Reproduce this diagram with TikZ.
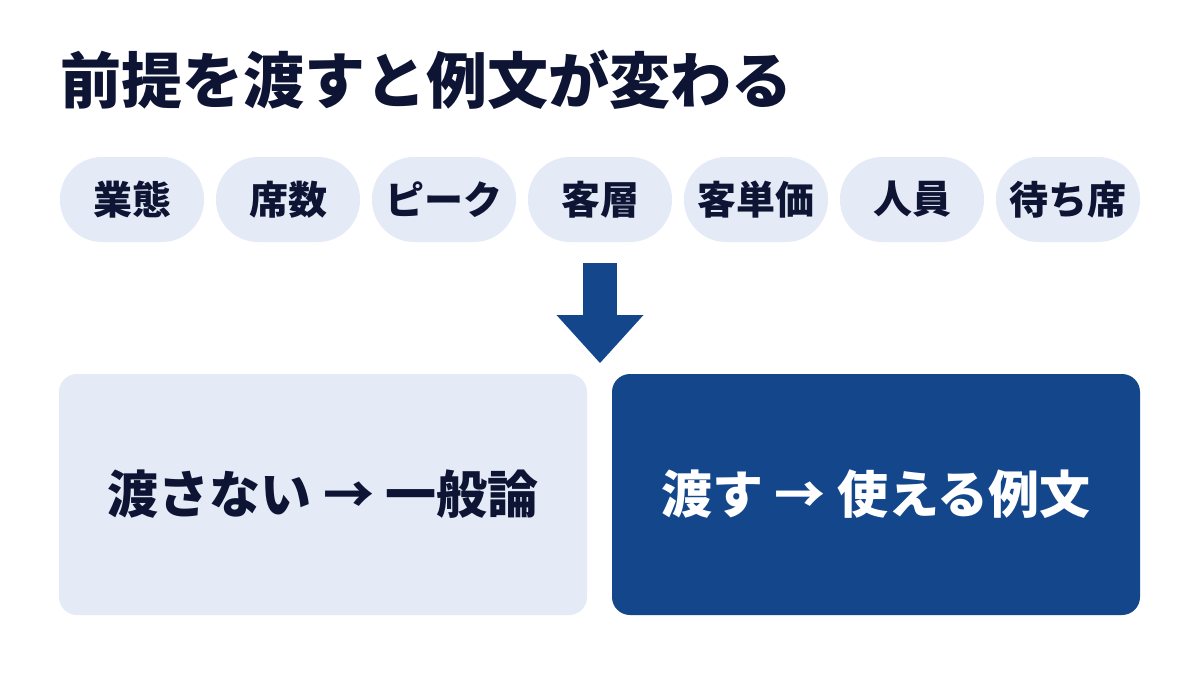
\documentclass[tikz,border=0pt]{standalone}
\usepackage{fontspec}
\setmainfont{Noto Sans CJK JP}[BoldFont={Noto Sans CJK JP Black}]
\usetikzlibrary{arrows.meta}
\definecolor{ink}{HTML}{0E1433}
\definecolor{pale}{HTML}{E4EBF6}
\definecolor{navy}{HTML}{14468C}

\begin{document}
\begin{tikzpicture}[x=1pt,y=-1pt]

    \tikzset{pillstyle/.style={fill=pale,rounded corners=42pt,minimum width=144pt,minimum height=85pt,inner sep=0pt,text=ink,font=\fontsize{39}{39}\selectfont\bfseries}}
    \tikzset{boxstyle/.style={rounded corners=18pt,minimum width=528pt,minimum height=241pt,inner sep=0pt,font=\fontsize{51}{51}\selectfont\bfseries}}
    \useasboundingbox[fill=white] (0,0) rectangle (1200,675);

    \node[anchor=base west,inner sep=0pt,text=ink,font=\fontsize{61}{61}\selectfont\bfseries] (title) at (60,103) {前提を渡すと例文が変わる};

    \node[pillstyle] (p1) at ( 132,199.5) {業態};
    \node[pillstyle] (p2) at ( 288,199.5) {席数};
    \node[pillstyle] (p3) at ( 444,199.5) {ピーク};
    \node[pillstyle] (p4) at ( 600,199.5) {客層};
    \node[pillstyle] (p5) at ( 756,199.5) {客単価};
    \node[pillstyle] (p6) at ( 912,199.5) {人員};
    \node[pillstyle] (p7) at (1068,199.5) {待ち席};

    \coordinate (a1) at (600,263);
    \coordinate (a2) at (600,363);

    \node[boxstyle,fill=pale,text=ink] (without) at (323,494.5) {渡さない → 一般論};
    \node[boxstyle,fill=navy,text=white] (with) at (876,494.5) {渡す → 使える例文};

    \begin{scope}[every path/.style={navy,line width=34pt}]
        \draw[-{Triangle[width=87pt,length=48pt,line width=0pt]}] (a1) -- (a2);
    \end{scope}
\end{tikzpicture}
\end{document}
